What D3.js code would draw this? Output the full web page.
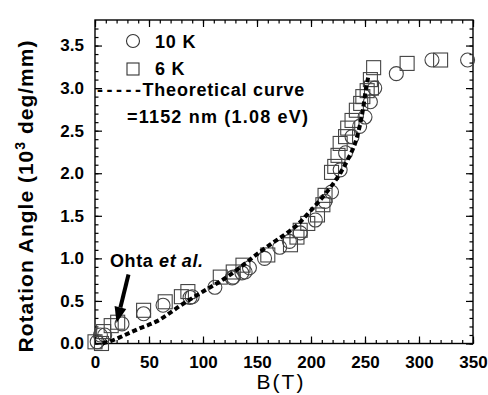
<!DOCTYPE html>
<html><head><meta charset="utf-8">
<script src="https://cdn.jsdelivr.net/npm/d3@7"></script>
<style>body{margin:0;background:#fff}svg{display:block}text{font-family:"Liberation Sans",Arial,sans-serif}</style>
</head><body><div id="c"></div>
<script>
// ---- data ----
const xTicks = [0, 50, 100, 150, 200, 250, 300, 350];
const yTicks = [0.0, 0.5, 1.0, 1.5, 2.0, 2.5, 3.0, 3.5];
const circleB = [2, 5, 9, 25, 45, 63, 88, 90, 111, 127, 128, 136, 139, 143, 157, 171, 180, 190, 204, 213, 219, 227, 232, 238, 245, 250, 255, 259, 279, 312, 345];
const circleV = [0.02, 0.1, 0.1, 0.23, 0.35, 0.45, 0.54, 0.55, 0.66, 0.77, 0.78, 0.83, 0.84, 0.89, 1.0, 1.13, 1.2, 1.3, 1.45, 1.67, 1.78, 2.04, 2.24, 2.43, 2.55, 2.66, 2.84, 3.0, 3.17, 3.33, 3.33];
const squareB = [0, 6, 8, 15, 21, 45, 65, 80, 86, 116, 128, 137, 160, 181, 187, 190, 197, 206, 211, 213, 219, 222, 225, 227, 232, 234, 238, 242, 246, 248, 252, 255, 256, 258, 289, 320];
const squareV = [0.02, 0.0, 0.14, 0.21, 0.25, 0.39, 0.49, 0.55, 0.61, 0.78, 0.84, 0.92, 1.04, 1.16, 1.25, 1.33, 1.41, 1.51, 1.63, 1.74, 2.01, 2.08, 2.21, 2.35, 2.43, 2.53, 2.62, 2.74, 2.82, 2.9, 2.97, 3.1, 3.0, 3.24, 3.29, 3.33];
const curveB = [7, 15, 26, 40, 57, 82, 100, 122, 137, 150, 162, 178, 187, 199, 214, 225, 234, 242, 248, 251, 253];
const curveV = [0, 0.03, 0.09, 0.17, 0.26, 0.47, 0.61, 0.78, 0.92, 1.05, 1.16, 1.30, 1.39, 1.55, 1.77, 1.96, 2.16, 2.40, 2.74, 3.00, 3.13];
const legendLabels = ["10 K", "6 K", "Theoretical curve", "=1152 nm (1.08 eV)"];
const arrowFrom = [31, 0.81], arrowTo = [20, 0.24];

const W = 488, H = 395;
const m = {l: 95, r: 15, t: 20, b: 51.5};
const svg = d3.select("#c").append("svg").attr("width", W).attr("height", H);
const x = d3.scaleLinear().domain([0, 350]).range([m.l, W - m.r]);
const y = d3.scaleLinear().domain([0, 3.8]).range([H - m.b, m.t]);
const x0 = x.range()[0], x1 = x.range()[1], y0 = y.range()[0], y1 = y.range()[1];

// axes: ticks inward on all four sides
const xMinor = d3.range(0, 351, 10), yMinor = d3.range(0, 38).map(d => d / 10);
const fmt = d3.format(".1f");
function axis(gen, scale, tr, minor, major, labels) {
  const g = svg.append("g").attr("transform", tr);
  g.call(gen(scale).tickValues(minor).tickSize(-3.5).tickFormat(""));
  const g2 = svg.append("g").attr("transform", tr);
  g2.call(gen(scale).tickValues(major).tickSize(-7).tickPadding(13).tickFormat(labels ? labels : ""));
  [g, g2].forEach(s => { s.select(".domain").remove(); s.selectAll("line").attr("stroke", "#000").attr("stroke-width", 1.2); });
  return g2;
}
const gb = axis(d3.axisBottom, x, `translate(0,${y0})`, xMinor, xTicks, d => d3.format("d")(d));
gb.selectAll("text").attr("font-size", 17).attr("font-weight", "bold").attr("fill", "#000").attr("dy", "0.72em").attr("y", 12);
axis(d3.axisTop, x, `translate(0,${y1})`, xMinor, xTicks, null);
const gl = axis(d3.axisLeft, y, `translate(${x0},0)`, yMinor, yTicks, fmt);
gl.selectAll("text").attr("font-size", 17).attr("font-weight", "bold").attr("fill", "#000").attr("x", -11);
axis(d3.axisRight, y, `translate(${x1},0)`, yMinor, yTicks, null);
svg.append("rect").attr("x", x0).attr("y", y1).attr("width", x1 - x0).attr("height", y0 - y1)
  .attr("fill", "none").attr("stroke", "#000").attr("stroke-width", 1.4);

// axis titles
svg.append("text").attr("x", 281).attr("y", 389).attr("text-anchor", "middle")
  .attr("font-size", 21).attr("letter-spacing", 2).text("B(T)");
const yt = svg.append("text").attr("transform", `translate(33,196) rotate(-90)`)
  .attr("text-anchor", "middle").attr("font-size", 21).attr("font-weight", "bold").attr("letter-spacing", 1);
yt.append("tspan").text("Rotation  Angle  (10");
yt.append("tspan").attr("font-size", 14).attr("dy", -8).text("3");
yt.append("tspan").attr("dy", 8).text("  deg/mm)");

// data
const circles = circleB.map((b, i) => [b, circleV[i]]);
const squares = squareB.map((b, i) => [b, squareV[i]]);
svg.append("g").selectAll("rect").data(squares).join("rect")
  .attr("x", d => x(d[0]) - 7).attr("y", d => y(d[1]) - 7).attr("width", 14).attr("height", 14)
  .attr("fill", "none").attr("stroke", "#444").attr("stroke-width", 1.1);
svg.append("g").selectAll("circle").data(circles).join("circle")
  .attr("cx", d => x(d[0])).attr("cy", d => y(d[1])).attr("r", 7)
  .attr("fill", "none").attr("stroke", "#444").attr("stroke-width", 1.1);

// theoretical curve
const curve = curveB.map((b, i) => [b, curveV[i]]);
svg.append("path").datum(curve)
  .attr("d", d3.line().x(d => x(d[0])).y(d => y(d[1])).curve(d3.curveMonotoneX))
  .attr("fill", "none").attr("stroke", "#000").attr("stroke-width", 4).attr("stroke-dasharray", "5,3");

// legend
svg.append("circle").attr("cx", 133).attr("cy", 41).attr("r", 6.5).attr("fill", "none").attr("stroke", "#333").attr("stroke-width", 1.1);
svg.append("rect").attr("x", 127).attr("y", 63).attr("width", 12).attr("height", 12).attr("fill", "none").attr("stroke", "#333").attr("stroke-width", 1.1);
const lt = (xx, yy) => svg.append("text").attr("x", xx).attr("y", yy).attr("font-size", 18).attr("font-weight", "bold").attr("letter-spacing", 0.8);
lt(155, 47.5).text(legendLabels[0]);
lt(155, 75).text(legendLabels[1]);
const t3 = lt(97, 96);
t3.append("tspan").attr("letter-spacing", 3.5).text("-----");
t3.append("tspan").attr("dx", -2).text(legendLabels[2]);
lt(127, 123).attr("letter-spacing", 1.2).text(legendLabels[3]);

// annotation
const ann = svg.append("text").attr("x", 110).attr("y", 267).attr("font-size", 18).attr("font-weight", "bold").attr("letter-spacing", 0.6);
ann.append("tspan").text("Ohta ");
ann.append("tspan").attr("font-style", "italic").text("et al.");
const ax1 = x(arrowFrom[0]), ay1 = y(arrowFrom[1]), ax2 = x(arrowTo[0]), ay2 = y(arrowTo[1]);
const ang = Math.atan2(ay2 - ay1, ax2 - ax1), hl = 16, hw = 6;
const bx = ax2 - hl * Math.cos(ang), by = ay2 - hl * Math.sin(ang);
svg.append("line").attr("x1", ax1).attr("y1", ay1).attr("x2", bx).attr("y2", by).attr("stroke", "#000").attr("stroke-width", 4);
svg.append("path").attr("d", `M${ax2},${ay2}L${bx + hw * Math.sin(ang)},${by - hw * Math.cos(ang)}L${bx - hw * Math.sin(ang)},${by + hw * Math.cos(ang)}Z`).attr("fill", "#000");
</script></body></html>
